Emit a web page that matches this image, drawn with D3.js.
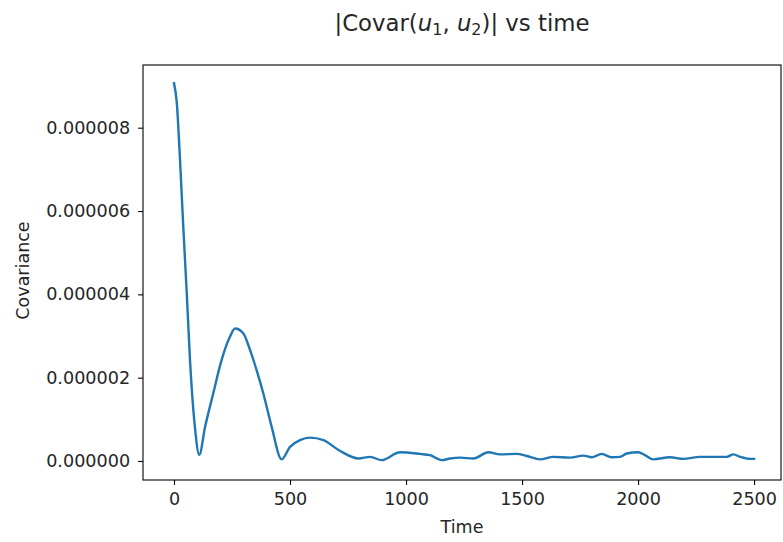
<!DOCTYPE html>
<html><head><meta charset="utf-8">
<script src="https://cdn.jsdelivr.net/npm/d3@7"></script>
<style>body{margin:0;background:#fff}svg{display:block}text{font-family:"DejaVu Sans",sans-serif;fill:#262626}</style>
</head><body><svg id="c" width="783" height="542"></svg>
<script>
const time = [0,12,26,40,55,69,90,109,134,169,205,241,263,299,328,356,385,421,464,500,543,586,644,716,795,845,895,974,1060,1103,1154,1190,1233,1290,1355,1405,1477,1520,1578,1635,1707,1764,1800,1843,1886,1922,1951,2001,2030,2066,2138,2195,2267,2339,2382,2411,2440,2483,2500];
const covar = [9.07,8.6,7.22,5.62,4.03,2.42,0.82,0.15,0.82,1.62,2.42,2.98,3.18,3.06,2.66,2.18,1.62,0.82,0.04,0.34,0.5,0.56,0.5,0.24,0.06,0.1,0.02,0.21,0.17,0.14,0.02,0.06,0.08,0.06,0.21,0.16,0.17,0.12,0.04,0.1,0.08,0.13,0.09,0.17,0.09,0.1,0.18,0.21,0.14,0.04,0.09,0.05,0.1,0.1,0.1,0.16,0.1,0.05,0.05].map(v=>v*1e-6);
const xTicks = [0,500,1000,1500,2000,2500];
const yTicks = [0,2e-6,4e-6,6e-6,8e-6];

const L=143,R=781,T=65,B=480;
const svg=d3.select("#c");
const x=d3.scaleLinear().domain([-133.6,2616]).range([L,R]);
const y=d3.scaleLinear().domain([-0.456e-6,9.505e-6]).range([B,T]);

const line=d3.line().x((d,i)=>x(time[i])).y((d,i)=>y(covar[i])).curve(d3.curveMonotoneX);
svg.append("path").datum(covar).attr("d",line).attr("fill","none").attr("stroke","#1f77b4").attr("stroke-width",2.4).attr("stroke-linejoin","round").attr("stroke-linecap","square");

const xa=svg.append("g").attr("transform",`translate(0,${B})`).call(d3.axisBottom(x).tickValues(xTicks).tickSize(4.9).tickPadding(7.5).tickFormat(d3.format("d")));
const ya=svg.append("g").attr("transform",`translate(${L},0)`).call(d3.axisLeft(y).tickValues(yTicks).tickSize(4.9).tickPadding(8).tickFormat(d=>d.toFixed(6)));
[xa,ya].forEach(g=>{g.select(".domain").remove();g.selectAll("line").attr("stroke","#000").attr("stroke-width",1.1);g.selectAll("text").attr("font-size","17.6px").attr("font-family","DejaVu Sans").attr("fill","#262626");});

svg.append("rect").attr("x",L).attr("y",T).attr("width",R-L).attr("height",B-T).attr("fill","none").attr("stroke","#000").attr("stroke-width",1.1);

svg.append("text").attr("x",(L+R)/2).attr("y",533).attr("text-anchor","middle").attr("font-size","17.5px").text("Time");
svg.append("text").attr("transform",`translate(28.5,270.5) rotate(-90)`).attr("text-anchor","middle").attr("font-size","17.5px").text("Covariance");

const t=svg.append("text").attr("x",(L+R)/2).attr("y",31).attr("text-anchor","middle").attr("font-size","22.8px");
t.append("tspan").text("|Covar(");
t.append("tspan").attr("font-style","italic").text("u");
t.append("tspan").attr("font-size","16px").attr("dy",4).text("1");
t.append("tspan").attr("dy",-4).text(", ");
t.append("tspan").attr("font-style","italic").text("u");
t.append("tspan").attr("font-size","16px").attr("dy",4).text("2");
t.append("tspan").attr("dy",-4).text(")| vs time");
</script></body></html>
